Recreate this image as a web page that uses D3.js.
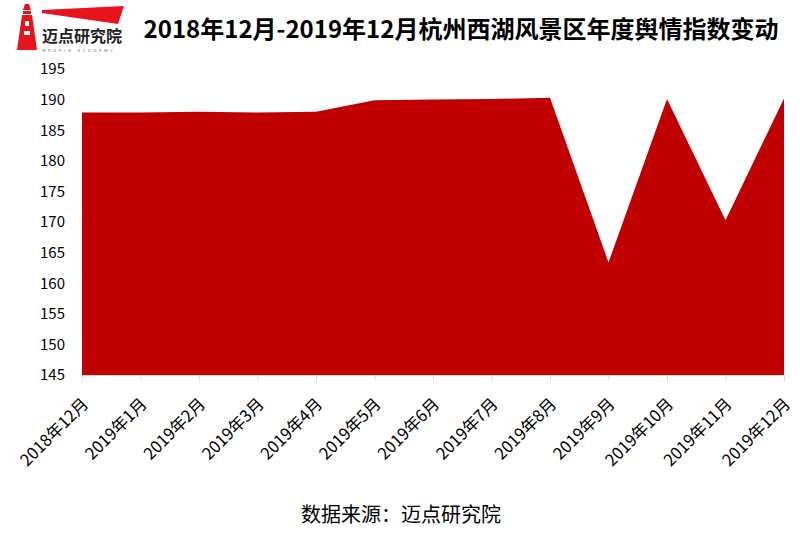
<!DOCTYPE html>
<html><head><meta charset="utf-8">
<script src="https://cdn.jsdelivr.net/npm/d3@7"></script>
<style>body{margin:0;background:#fff}svg{display:block}</style>
</head><body><svg id="c" width="800" height="534"></svg>
<script>
const categories = ["2018年12月","2019年1月","2019年2月","2019年3月","2019年4月","2019年5月","2019年6月","2019年7月","2019年8月","2019年9月","2019年10月","2019年11月","2019年12月"];
const values = [187.9,187.9,188.0,187.9,188.0,189.9,190.0,190.1,190.3,163.4,190.1,170.3,190.2];
const yTicks = [145,150,155,160,165,170,175,180,185,190,195];
const titleText = "2018年12月-2019年12月杭州西湖风景区年度舆情指数变动";
const sourceText = "数据来源：迈点研究院";

const svg = d3.select("#c");
const font = "'Noto Sans CJK SC','Noto Sans',sans-serif";
const L = 82, R = 784, T = 69, B = 375;
const x = d3.scalePoint().domain(categories).range([L, R]);
const y = d3.scaleLinear().domain([145, 195]).range([B, T]);

// area
const area = d3.area().x((d,i)=>x(categories[i])).y0(y(145)).y1(d=>y(d));
svg.append("path").datum(values).attr("d", area).attr("fill", "#c00000");

// x axis
const xa = svg.append("g").attr("transform", `translate(0,${B})`)
  .call(d3.axisBottom(x).tickSize(6).tickSizeOuter(0));
xa.select(".domain").attr("stroke", "#d9d9d9");
xa.selectAll(".tick line").attr("stroke", "#d9d9d9");
xa.selectAll(".tick text").attr("font-family", font).attr("font-size", 16.5).attr("fill", "#000")
  .attr("text-anchor", "end").attr("dy", 0).attr("y", 0)
  .attr("transform", "translate(7,30) rotate(-45)");

// y axis
const ya = svg.append("g").attr("transform", `translate(${L},0)`)
  .call(d3.axisLeft(y).tickValues(yTicks).tickSize(0).tickPadding(17));
ya.select(".domain").remove();
ya.selectAll(".tick text").attr("font-family", font).attr("font-size", 15).attr("fill", "#000");

// title
svg.append("text").attr("x", 461).attr("y", 38).attr("text-anchor", "middle")
  .attr("font-family", font).attr("font-weight", "bold").attr("font-size", 24).attr("fill", "#000")
  .text(titleText);

// source
svg.append("text").attr("x", 401).attr("y", 522).attr("text-anchor", "middle")
  .attr("font-family", font).attr("font-size", 20).attr("fill", "#000")
  .text(sourceText);

// logo
const lg = svg.append("g");
lg.append("path").attr("d", "M42,10 L124,6 L118,24 L42,13 Z").attr("fill", "#e8141b");
// lighthouse
lg.append("path").attr("d", "M23,11 L31,11 L31,14 L23,14 Z").attr("fill", "#e8141b");
lg.append("path").attr("d", "M25,4 L29,4 L31,10 L23,10 Z").attr("fill", "#e8141b");
lg.append("path").attr("d", "M22,15 L32,15 L37,50 L17,50 Z").attr("fill", "#e8141b");
lg.append("rect").attr("x", 25).attr("y", 21).attr("width", 4).attr("height", 5).attr("fill", "#fff");
lg.append("rect").attr("x", 24).attr("y", 31).attr("width", 6).attr("height", 4).attr("fill", "#fff");
lg.append("text").attr("x", 42).attr("y", 42).attr("font-family", font).attr("font-weight", "bold")
  .attr("font-size", 16).attr("fill", "#222").text("迈点研究院");
lg.append("text").attr("x", 42).attr("y", 52).attr("font-family", "'DejaVu Sans',sans-serif")
  .attr("font-size", 4).attr("letter-spacing", 2.6).attr("fill", "#777").text("MEADIN ACADEMY");
</script></body></html>
